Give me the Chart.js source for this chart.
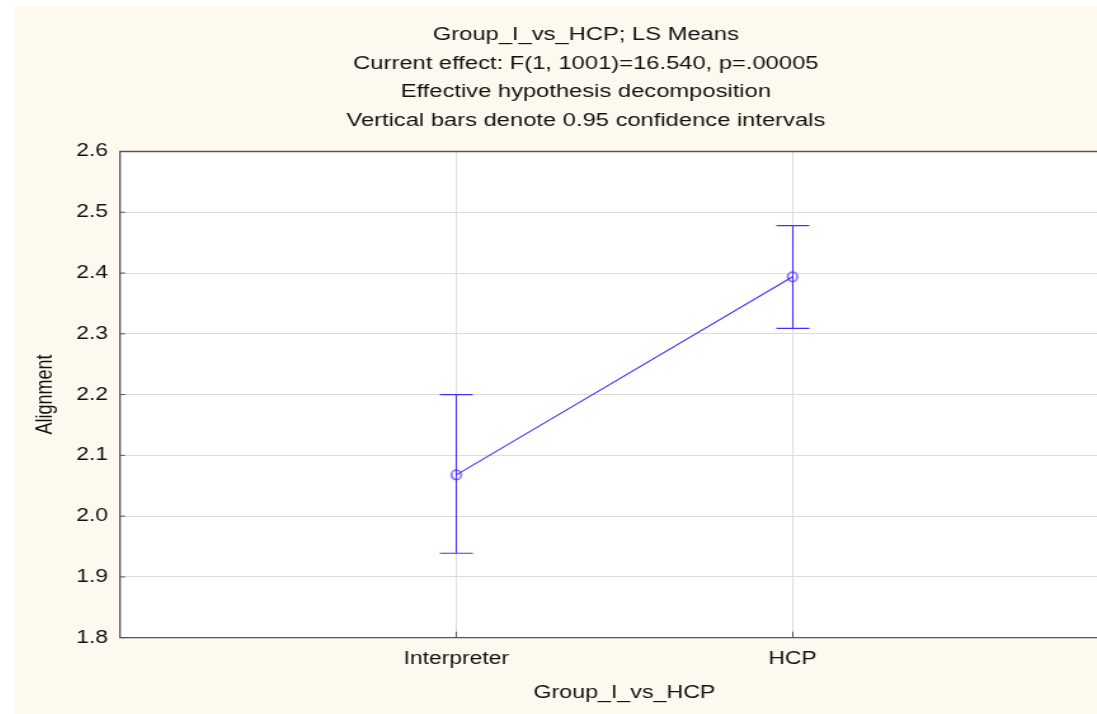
<!DOCTYPE html>
<html>
<head>
<meta charset="utf-8">
<script src="https://cdn.jsdelivr.net/npm/chart.js@4.4.1/dist/chart.umd.min.js"></script>
<style>
  html, body { margin: 0; padding: 0; background: #ffffff; overflow: hidden; }
  #wrap { position: absolute; left: 15px; top: 6px; transform: scaleX(1.27); transform-origin: 0 0; }
  #chart { display: block; background: #fef9ee; }
</style>
</head>
<body>
<div id="wrap"><canvas id="chart" width="899" height="708" style="width:899px;height:708px"></canvas></div>
<script>
// values
const categories = ['Interpreter', 'HCP'];
const catPos = [1, 2];
const means = [2.068, 2.394];
const lower = [1.939, 2.309];
const upper = [2.200, 2.478];
const yTicks = [1.8, 1.9, 2.0, 2.1, 2.2, 2.3, 2.4, 2.5, 2.6];

const titleLines = [
  'Group_I_vs_HCP; LS Means',
  'Current effect: F(1, 1001)=16.540, p=.00005',
  'Effective hypothesis decomposition',
  'Vertical bars denote 0.95 confidence intervals'
];

const SX = 1.27; // horizontal stretch of the page
const blue = '#4a2cff';
const font = 'Liberation Sans, Arial, sans-serif';

// open circle marker, squeezed so it looks round after the stretch
const marker = document.createElement('canvas');
marker.width = 14; marker.height = 14;
(function () {
  const c = marker.getContext('2d');
  c.strokeStyle = blue;
  c.lineWidth = 1.2;
  c.beginPath();
  c.ellipse(7, 7, 4.8 / SX, 4.8, 0, 0, Math.PI * 2);
  c.stroke();
})();

const frame = {
  id: 'frame',
  beforeDraw(chart) {
    const {ctx, chartArea: a} = chart;
    ctx.save();
    ctx.fillStyle = '#ffffff';
    ctx.fillRect(a.left, a.top, a.right - a.left, a.bottom - a.top);
    ctx.restore();
  },
  afterDatasetsDraw(chart) {
    const {ctx, scales: {x, y}} = chart;
    ctx.save();
    // error bars
    ctx.strokeStyle = blue;
    ctx.lineWidth = 1.1;
    catPos.forEach((p, i) => {
      const px = Math.round(x.getPixelForValue(p)) + 0.5;
      const lo = y.getPixelForValue(lower[i]);
      const hi = y.getPixelForValue(upper[i]);
      const cap = 13;
      ctx.beginPath();
      ctx.moveTo(px, lo); ctx.lineTo(px, hi);
      ctx.moveTo(px - cap, hi); ctx.lineTo(px + cap, hi);
      ctx.moveTo(px - cap, lo); ctx.lineTo(px + cap, lo);
      ctx.stroke();
    });
    ctx.restore();
  },
  afterDraw(chart) {
    const {ctx, chartArea: a, scales: {x, y}} = chart;
    ctx.save();
    ctx.strokeStyle = '#555555';
    ctx.lineWidth = 1.3;
    ctx.beginPath();
    ctx.moveTo(a.right, a.top); ctx.lineTo(a.left, a.top);
    ctx.lineTo(a.left, a.bottom); ctx.lineTo(a.right, a.bottom);
    ctx.stroke();
    // short inward tick marks
    ctx.lineWidth = 1;
    ctx.beginPath();
    yTicks.forEach(v => {
      const py = y.getPixelForValue(v);
      ctx.moveTo(a.left, py); ctx.lineTo(a.left + 4, py);
    });
    catPos.forEach(p => {
      const px = Math.round(x.getPixelForValue(p)) + 0.5;
      ctx.moveTo(px, a.bottom); ctx.lineTo(px, a.bottom - 6);
    });
    ctx.stroke();
    ctx.restore();
  }
};

new Chart(document.getElementById('chart'), {
  type: 'line',
  data: {
    datasets: [{
      data: catPos.map((p, i) => ({x: p, y: means[i]})),
      borderColor: blue,
      borderWidth: 1.1,
      pointStyle: marker,
      pointRadius: 7,
      fill: false,
      tension: 0
    }]
  },
  options: {
    responsive: false,
    devicePixelRatio: 1,
    animation: false,
    layout: {padding: 0},
    plugins: {
      legend: {display: false},
      tooltip: {enabled: false},
      title: {
        display: true,
        text: titleLines,
        color: '#111111',
        font: {family: font, size: 18.7, weight: 'normal', lineHeight: 1.524},
        padding: {top: 15, bottom: 16.5}
      }
    },
    scales: {
      x: {
        type: 'linear',
        min: 0,
        max: 3,
        afterBuildTicks(scale) { scale.ticks = catPos.map(v => ({value: v})); },
        afterFit(scale) {
          scale.height = 76.3;
          scale.paddingLeft = 0;
          scale.paddingRight = 21.9;
        },
        border: {display: false},
        grid: {color: '#dcdcdc', lineWidth: 1, drawTicks: false},
        ticks: {
          padding: 11,
          color: '#111111',
          font: {family: font, size: 18},
          callback: v => categories[catPos.indexOf(v)]
        },
        title: {
          display: true,
          text: 'Group_I_vs_HCP',
          color: '#111111',
          font: {family: font, size: 18.3},
          padding: {top: 0, bottom: 10}
        }
      },
      y: {
        min: 1.8,
        max: 2.6,
        afterBuildTicks(scale) { scale.ticks = yTicks.map(v => ({value: v})); },
        afterFit(scale) { scale.width = 82.7; },
        border: {display: false},
        grid: {color: '#dcdcdc', lineWidth: 1, drawTicks: false},
        ticks: {
          padding: 9.5,
          color: '#111111',
          font: {family: font, size: 18},
          callback: v => v.toFixed(1)
        },
        title: {
          display: true,
          text: 'Alignment',
          color: '#111111',
          font: {family: font, size: 18},
          padding: {top: 13.6, bottom: 0}
        }
      }
    }
  },
  plugins: [frame]
});
</script>
</body>
</html>
